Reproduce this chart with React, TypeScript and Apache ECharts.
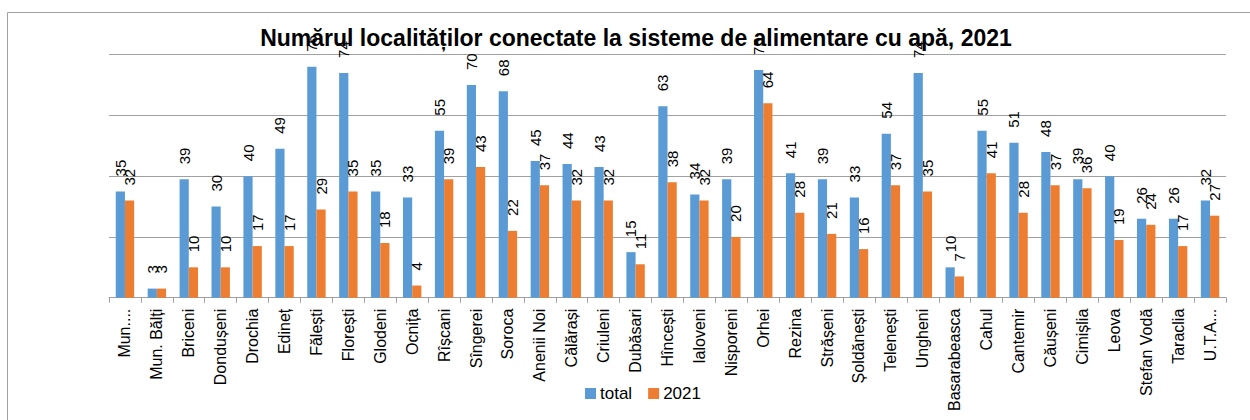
import React, { useEffect, useRef } from "react";
import * as echarts from "echarts";

const categories = [
  "Mun. Chișinău", "Mun. Bălți", "Briceni", "Dondușeni", "Drochia", "Edineț", "Fălești", "Florești",
  "Glodeni", "Ocnița", "Rîșcani", "Sîngerei", "Soroca", "Anenii Noi", "Călărași", "Criuleni",
  "Dubăsari", "Hîncești", "Ialoveni", "Nisporeni", "Orhei", "Rezina", "Strășeni", "Șoldănești",
  "Telenești", "Ungheni", "Basarabeasca", "Cahul", "Cantemir", "Căușeni", "Cimișlia", "Leova",
  "Stefan Vodă", "Taraclia", "U.T.A. Găgăuzia",
];

const tickLabels = [
  "Mun....", "Mun. Bălți", "Briceni", "Dondușeni", "Drochia", "Edineț", "Fălești", "Florești",
  "Glodeni", "Ocnița", "Rîșcani", "Sîngerei", "Soroca", "Anenii Noi", "Călărași", "Criuleni",
  "Dubăsari", "Hîncești", "Ialoveni", "Nisporeni", "Orhei", "Rezina", "Strășeni", "Șoldănești",
  "Telenești", "Ungheni", "Basarabeasca", "Cahul", "Cantemir", "Căușeni", "Cimișlia", "Leova",
  "Stefan Vodă", "Taraclia", "U.T.A...",
];

const totalValues = [
  35, 3, 39, 30, 40, 49, 76, 74, 35, 33, 55, 70, 68, 45, 44, 43, 15, 63, 34, 39, 75, 41, 39, 33,
  54, 74, 10, 55, 51, 48, 39, 40, 26, 26, 32,
];

const values2021 = [
  32, 3, 10, 10, 17, 17, 29, 35, 18, 4, 39, 43, 22, 37, 32, 32, 11, 38, 32, 20, 64, 28, 21, 16,
  37, 35, 7, 41, 28, 37, 36, 19, 24, 17, 27,
];

const seriesNames = ["total", "2021"];
const titleText = "Numărul localităților conectate la sisteme de alimentare cu apă, 2021";

const FONT = "Liberation Sans, Arial, sans-serif";

export default function App() {
  const ref = useRef<HTMLDivElement>(null);

  useEffect(() => {
    if (!ref.current) return;
    const chart = echarts.init(ref.current, null, { renderer: "svg" });
    const label = {
      show: true,
      position: "top",
      rotate: 90,
      align: "left",
      verticalAlign: "middle",
      distance: 15,
      color: "#000",
      fontSize: 15,
      fontFamily: FONT,
    };
    chart.setOption({
      animation: false,
      backgroundColor: "#fff",
      title: {
        text: titleText,
        left: 631,
        top: 21,
        textAlign: "center",
        textStyle: { fontFamily: FONT, fontWeight: "bold", fontSize: 23, color: "#000" },
      },
      legend: {
        data: seriesNames,
        left: 580,
        top: 380,
        icon: "rect",
        itemWidth: 11,
        itemHeight: 11,
        itemGap: 16,
        textStyle: { fontFamily: FONT, fontSize: 17, color: "#000", padding: [0, 0, 0, -1] },
      },
      grid: { left: 109, right: 24, top: 54.7, bottom: 122.3 },
      xAxis: {
        type: "category",
        data: categories,
        axisLine: { lineStyle: { color: "#A0A0A0", width: 1 } },
        axisTick: { show: true, length: 5, lineStyle: { color: "#A0A0A0" } },
        axisLabel: {
          rotate: 90,
          interval: 0,
          margin: 11,
          color: "#000",
          fontSize: 16,
          fontFamily: FONT,
          formatter: (_v: string, i: number) => tickLabels[i],
        },
      },
      yAxis: {
        type: "value",
        min: 0,
        max: 80,
        interval: 20,
        axisLabel: { show: false },
        axisLine: { show: false },
        axisTick: { show: false },
        splitLine: { lineStyle: { color: "#A0A0A0", width: 1 } },
      },
      series: [
        {
          name: seriesNames[0],
          type: "bar",
          data: totalValues,
          barWidth: 9.2,
          barGap: "0%",
          itemStyle: { color: "#5B9BD5" },
          label,
        },
        {
          name: seriesNames[1],
          type: "bar",
          data: values2021,
          barWidth: 9.2,
          barGap: "0%",
          itemStyle: { color: "#ED7D31" },
          label,
        },
      ],
      graphic: [
        {
          type: "rect",
          shape: { x: 7.5, y: 12.5, width: 1300, height: 500 },
          style: { fill: "none", stroke: "#A0A0A0", lineWidth: 1 },
          silent: true,
          z: -1,
        },
      ],
    });
    return () => chart.dispose();
  }, []);

  return (
    <div
      ref={ref}
      style={{ position: "fixed", left: 0, top: 0, width: "1250px", height: "420px" }}
    />
  );
}
